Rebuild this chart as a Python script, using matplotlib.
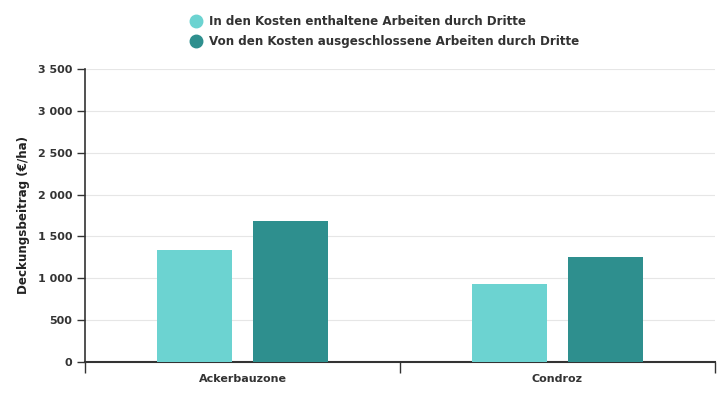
import matplotlib
matplotlib.use("Agg")
import matplotlib.pyplot as plt
from matplotlib.lines import Line2D
import numpy as np

categories = ["Ackerbauzone", "Condroz"]
series_names = ["In den Kosten enthaltene Arbeiten durch Dritte",
                "Von den Kosten ausgeschlossene Arbeiten durch Dritte"]
values_incl = [1340, 932]
values_excl = [1685, 1254]
yticks = [0, 500, 1000, 1500, 2000, 2500, 3000, 3500]
ytick_labels = ["0", "500", "1 000", "1 500", "2 000", "2 500", "3 000", "3 500"]
colors = ["#6CD3D1", "#2E8F8E"]

plt.rcParams['font.family'] = ['DejaVu Sans']
fig = plt.figure(figsize=(7.25, 4.0), dpi=100)
ax = fig.add_axes([85/725, 38/400, 630/725, 293/400])

x = np.arange(len(categories))
w = 0.238
off = 0.151
ax.bar(x - off, values_incl, width=w, color=colors[0], zorder=3)
ax.bar(x + off, values_excl, width=w, color=colors[1], zorder=3)

ax.set_xlim(-0.5, len(categories) - 0.5)
ax.set_ylim(0, 3500)
ax.set_yticks(yticks)
ax.set_yticklabels(ytick_labels, fontsize=8, fontweight='bold', color='#333333')
ax.yaxis.grid(True, color='#e6e6e6', linewidth=0.8, zorder=0)
ax.tick_params(axis='y', length=6, width=1, color='#333333', pad=3)

ax.set_xticks(np.arange(-0.5, len(categories)), minor=False)
ax.set_xticklabels([])
ax.set_xticks(x, minor=True)
ax.set_xticklabels(categories, minor=True, fontsize=8, fontweight='bold', color='#333333')
ax.tick_params(axis='x', which='major', length=8, width=1, color='#333333')
ax.tick_params(axis='x', which='minor', length=0, pad=9)

for s in ['top', 'right']:
    ax.spines[s].set_visible(False)
ax.spines['left'].set_color('#333333')
ax.spines['bottom'].set_color('#333333')
ax.spines['left'].set_linewidth(1.2)
ax.spines['bottom'].set_linewidth(1.5)

ax.set_ylabel("Deckungsbeitrag (€/ha)", fontsize=8.6, fontweight='bold', color='#222222', labelpad=6)

handles = [Line2D([0], [0], marker='o', linestyle='none', markersize=9,
                  markerfacecolor=c, markeredgecolor=c) for c in colors]
leg = fig.legend(handles, series_names, loc='center', bbox_to_anchor=(382/725, 1 - 31.5/400),
                 frameon=False, fontsize=8.6, handletextpad=0.1, labelspacing=0.55,
                 borderpad=0, borderaxespad=0)
for t in leg.get_texts():
    t.set_fontweight('bold')
    t.set_color('#333333')

fig.savefig("out.png", dpi=100)
